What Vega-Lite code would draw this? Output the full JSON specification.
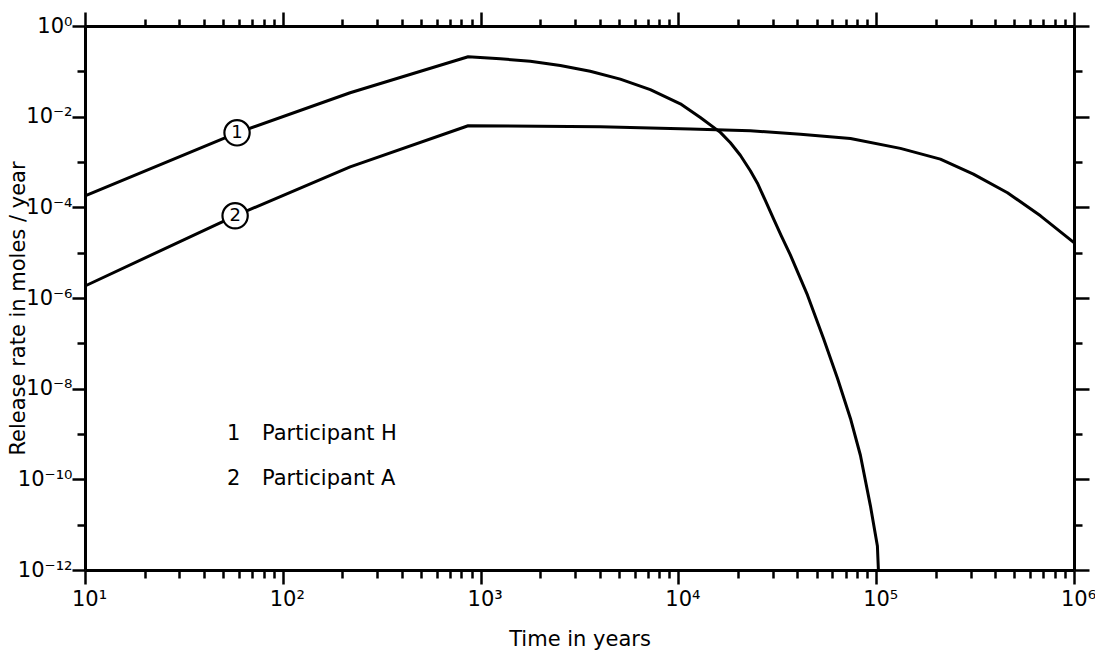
{
  "$schema": "https://vega.github.io/schema/vega-lite/v6.json",
  "width": 989,
  "height": 544,
  "autosize": {"type": "none"},
  "padding": {"left": 85, "top": 26, "right": 21, "bottom": 80},
  "background": "white",
  "config": {
    "view": {"stroke": null},
    "axis": {
      "grid": false,
      "domainColor": "black",
      "domainWidth": 3,
      "tickColor": "black",
      "tickWidth": 2.5,
      "labelColor": "black",
      "titleColor": "black",
      "labelFont": "DejaVu Sans",
      "titleFont": "DejaVu Sans",
      "labelFontSize": 21,
      "titleFontSize": 21,
      "titleFontWeight": "normal",
      "labelOverlap": false,
      "labelFlush": false
    }
  },
  "datasets": {
    "curves": [
      {"curve": "Participant H", "t": 10, "rate": 1.78e-4},
      {"curve": "Participant H", "t": 58.7, "rate": 4.4e-3},
      {"curve": "Participant H", "t": 219, "rate": 0.0337},
      {"curve": "Participant H", "t": 865, "rate": 0.21},
      {"curve": "Participant H", "t": 1256, "rate": 0.189},
      {"curve": "Participant H", "t": 1782, "rate": 0.167},
      {"curve": "Participant H", "t": 2529, "rate": 0.135},
      {"curve": "Participant H", "t": 3581, "rate": 0.1002},
      {"curve": "Participant H", "t": 5081, "rate": 0.0674},
      {"curve": "Participant H", "t": 7209, "rate": 0.0394},
      {"curve": "Participant H", "t": 10230, "rate": 0.0192},
      {"curve": "Participant H", "t": 12910, "rate": 9.6e-3},
      {"curve": "Participant H", "t": 16300, "rate": 4.5e-3},
      {"curve": "Participant H", "t": 18320, "rate": 2.66e-3},
      {"curve": "Participant H", "t": 20560, "rate": 1.41e-3},
      {"curve": "Participant H", "t": 23110, "rate": 6.4e-4},
      {"curve": "Participant H", "t": 25100, "rate": 3.4e-4},
      {"curve": "Participant H", "t": 27540, "rate": 1.4e-4},
      {"curve": "Participant H", "t": 30200, "rate": 5.7e-5},
      {"curve": "Participant H", "t": 33130, "rate": 2.36e-5},
      {"curve": "Participant H", "t": 36800, "rate": 8.95e-6},
      {"curve": "Participant H", "t": 44900, "rate": 1.17e-6},
      {"curve": "Participant H", "t": 54100, "rate": 1.3e-7},
      {"curve": "Participant H", "t": 63700, "rate": 1.7e-8},
      {"curve": "Participant H", "t": 74100, "rate": 2.2e-9},
      {"curve": "Participant H", "t": 83200, "rate": 3.4e-10},
      {"curve": "Participant H", "t": 93500, "rate": 2.6e-11},
      {"curve": "Participant H", "t": 101400, "rate": 3.4e-12},
      {"curve": "Participant H", "t": 102600, "rate": 1e-12},
      {"curve": "Participant A", "t": 10, "rate": 1.84e-6},
      {"curve": "Participant A", "t": 57.4, "rate": 6.5e-5},
      {"curve": "Participant A", "t": 219, "rate": 7.8e-4},
      {"curve": "Participant A", "t": 865, "rate": 6.3e-3},
      {"curve": "Participant A", "t": 4030, "rate": 6.0e-3},
      {"curve": "Participant A", "t": 11480, "rate": 5.35e-3},
      {"curve": "Participant A", "t": 23100, "rate": 4.9e-3},
      {"curve": "Participant A", "t": 41400, "rate": 4.1e-3},
      {"curve": "Participant A", "t": 74100, "rate": 3.3e-3},
      {"curve": "Participant A", "t": 132500, "rate": 2.0e-3},
      {"curve": "Participant A", "t": 211000, "rate": 1.16e-3},
      {"curve": "Participant A", "t": 310000, "rate": 5.4e-4},
      {"curve": "Participant A", "t": 461000, "rate": 2.1e-4},
      {"curve": "Participant A", "t": 677000, "rate": 6.5e-5},
      {"curve": "Participant A", "t": 1000000, "rate": 1.66e-5}
    ],
    "markers": [
      {"num": "1", "t": 58.7, "rate": 4.4e-3},
      {"num": "2", "t": 57.4, "rate": 6.5e-5}
    ],
    "notes": [
      {"label": "1", "t": 52.3, "rate": 1e-9},
      {"label": "Participant H", "t": 78.5, "rate": 1e-9},
      {"label": "2", "t": 52.3, "rate": 1e-10},
      {"label": "Participant A", "t": 78.5, "rate": 1e-10}
    ]
  },
  "layer": [
    {
      "data": {"name": "curves"},
      "mark": {"type": "line", "color": "black", "strokeWidth": 3, "strokeJoin": "round"},
      "encoding": {
        "x": {
          "field": "t", "type": "quantitative",
          "scale": {"type": "log", "domain": [10, 1000000], "nice": false},
          "axis": {
            "orient": "bottom",
            "title": "Time in years",
            "titleY": 58,
            "values": [10,20,30,40,50,60,70,80,90,100,200,300,400,500,600,700,800,900,1000,2000,3000,4000,5000,6000,7000,8000,9000,10000,20000,30000,40000,50000,60000,70000,80000,90000,100000,200000,300000,400000,500000,600000,700000,800000,900000,1000000],
            "labelExpr": "['','10¹','10²','10³','10⁴','10⁵','10⁶'][abs(log(datum.value)/LN10 - round(log(datum.value)/LN10)) < 0.001 ? round(log(datum.value)/LN10) : 0]",
            "tickSize": {"condition": {"test": "abs(log(datum.value)/LN10 - round(log(datum.value)/LN10)) < 0.001", "value": 14}, "value": 8},
            "labelPadding": 4,
            "labelOffset": 4
          }
        },
        "y": {
          "field": "rate", "type": "quantitative",
          "scale": {"type": "log", "domain": [1e-12, 1], "nice": false},
          "axis": {
            "orient": "left",
            "title": "Release rate in moles / year",
            "titleX": -57,
            "titleY": 282,
            "values": [1, 0.1, 0.01, 0.001, 0.0001, 0.00001, 0.000001, 1e-7, 1e-8, 1e-9, 1e-10, 1e-11, 1e-12],
            "labelExpr": "['10⁰','','10⁻²','','10⁻⁴','','10⁻⁶','','10⁻⁸','','10⁻¹⁰','','10⁻¹²'][-round(log(datum.value)/LN10)]",
            "tickSize": {"condition": {"test": "round(log(datum.value)/LN10) % 2 == 0", "value": 13}, "value": 8},
            "labelPadding": 0
          }
        },
        "detail": {"field": "curve", "type": "nominal"}
      }
    },
    {
      "data": {"name": "markers"},
      "mark": {"type": "circle", "size": 640, "fill": "white", "stroke": "black", "strokeWidth": 2.2, "opacity": 1},
      "encoding": {
        "x": {
          "field": "t", "type": "quantitative",
          "scale": {"type": "log", "domain": [10, 1000000], "nice": false},
          "axis": {
            "orient": "top",
            "title": null,
            "labels": false,
            "values": [10,20,30,40,50,60,70,80,90,100,200,300,400,500,600,700,800,900,1000,2000,3000,4000,5000,6000,7000,8000,9000,10000,20000,30000,40000,50000,60000,70000,80000,90000,100000,200000,300000,400000,500000,600000,700000,800000,900000,1000000],
            "tickSize": {"condition": {"test": "abs(log(datum.value)/LN10 - round(log(datum.value)/LN10)) < 0.001", "value": 14}, "value": 7}
          }
        },
        "y": {
          "field": "rate", "type": "quantitative",
          "scale": {"type": "log", "domain": [1e-12, 1], "nice": false},
          "axis": {
            "orient": "right",
            "title": null,
            "labels": false,
            "values": [1, 0.1, 0.01, 0.001, 0.0001, 0.00001, 0.000001, 1e-7, 1e-8, 1e-9, 1e-10, 1e-11, 1e-12],
            "tickSize": {"condition": {"test": "round(log(datum.value)/LN10) % 2 == 0", "value": 15}, "value": 8}
          }
        }
      }
    },
    {
      "data": {"name": "markers"},
      "mark": {"type": "text", "font": "DejaVu Sans", "fontSize": 18, "color": "black", "align": "center", "baseline": "middle"},
      "encoding": {
        "x": {"field": "t", "type": "quantitative", "scale": {"type": "log", "domain": [10, 1000000], "nice": false}, "axis": null},
        "y": {"field": "rate", "type": "quantitative", "scale": {"type": "log", "domain": [1e-12, 1], "nice": false}, "axis": null},
        "text": {"field": "num"}
      }
    },
    {
      "data": {"name": "notes"},
      "mark": {"type": "text", "font": "DejaVu Sans", "fontSize": 21, "color": "black", "align": "left", "baseline": "middle"},
      "encoding": {
        "x": {"field": "t", "type": "quantitative", "scale": {"type": "log", "domain": [10, 1000000], "nice": false}, "axis": null},
        "y": {"field": "rate", "type": "quantitative", "scale": {"type": "log", "domain": [1e-12, 1], "nice": false}, "axis": null},
        "text": {"field": "label"}
      }
    }
  ],
  "resolve": {"axis": {"x": "independent", "y": "independent"}}
}
